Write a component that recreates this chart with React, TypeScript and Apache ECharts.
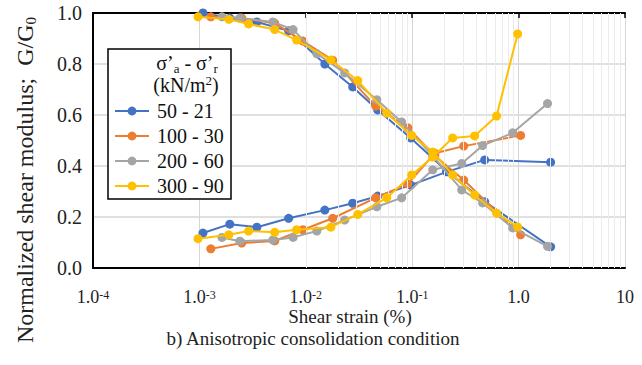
import React, { useEffect, useRef } from "react";
import * as echarts from "echarts";

const seriesNames = ["50 - 21", "100 - 30", "200 - 60", "300 - 90"];
const colors = ["#4472C4", "#ED7D31", "#A5A5A5", "#FFC000"];

const blueX = [0.00108, 0.00193, 0.00347, 0.0069, 0.0151, 0.0276, 0.0474, 0.0968, 0.211, 0.48, 2.0];
const blueDec = [1.0, 0.98, 0.965, 0.93, 0.8, 0.71, 0.62, 0.51, 0.38, 0.26, 0.083];
const blueInc = [0.137, 0.172, 0.16, 0.195, 0.227, 0.254, 0.282, 0.325, 0.377, 0.424, 0.415];

const orangeX = [0.00128, 0.0025, 0.0051, 0.0094, 0.0179, 0.0454, 0.0908, 0.163, 0.305, 1.045];
const orangeDec = [0.985, 0.98, 0.96, 0.89, 0.815, 0.635, 0.55, 0.44, 0.345, 0.13];
const orangeInc = [0.075, 0.098, 0.106, 0.15, 0.195, 0.275, 0.33, 0.45, 0.478, 0.52];

const grayX = [0.00163, 0.0024, 0.0049, 0.0076, 0.0127, 0.0232, 0.0465, 0.0796, 0.156, 0.292, 0.459, 0.88, 1.87];
const grayDec = [0.985, 0.98, 0.965, 0.935, 0.84, 0.765, 0.66, 0.573, 0.44, 0.306, 0.255, 0.157, 0.085];
const grayInc = [0.12, 0.105, 0.11, 0.12, 0.145, 0.188, 0.24, 0.275, 0.385, 0.41, 0.48, 0.53, 0.645];

const yellowX = [0.00097, 0.00189, 0.0029, 0.0051, 0.0082, 0.0172, 0.0308, 0.0577, 0.0989, 0.156, 0.24, 0.386, 0.621, 0.98];
const yellowDec = [0.985, 0.975, 0.957, 0.935, 0.894, 0.816, 0.735, 0.607, 0.52, 0.455, 0.365, 0.286, 0.215, 0.161];
const yellowInc = [0.115, 0.13, 0.145, 0.14, 0.15, 0.16, 0.21, 0.275, 0.365, 0.435, 0.51, 0.518, 0.596, 0.918];

const groups = [
  { x: blueX, dec: blueDec, inc: blueInc },
  { x: orangeX, dec: orangeDec, inc: orangeInc },
  { x: grayX, dec: grayDec, inc: grayInc },
  { x: yellowX, dec: yellowDec, inc: yellowInc },
];

const xMin = 0.0001;
const xMax = 10;
const yTicks = [0, 0.2, 0.4, 0.6, 0.8, 1.0];

const FONT = "'Liberation Serif', 'Times New Roman', serif";

export default function App() {
  const ref = useRef<HTMLDivElement>(null);
  useEffect(() => {
    if (!ref.current) return;
    const chart = echarts.init(ref.current, undefined, { renderer: "svg" });

    const minorLines: { xAxis: number }[] = [];
    for (let e = -4; e < 1; e++) {
      for (let m = 2; m <= 9; m++) {
        minorLines.push({ xAxis: m * Math.pow(10, e) });
      }
    }

    const dataSeries: any[] = [];
    groups.forEach((g, i) => {
      ["dec", "inc"].forEach((k) => {
        dataSeries.push({
          type: "line",
          name: seriesNames[i],
          data: g.x.map((x, j) => [x, (g as any)[k][j]]),
          symbol: "circle",
          symbolSize: 9,
          lineStyle: { color: colors[i], width: 2 },
          itemStyle: { color: colors[i] },
          z: 3 + i,
        });
      });
    });

    const option: any = {
      animation: false,
      textStyle: { fontFamily: FONT },
      grid: { left: 93, top: 13, right: 17, bottom: 97, containLabel: false },
      legend: {
        data: seriesNames,
        orient: "vertical",
        left: 114,
        top: 101,
        z: 30,
        itemWidth: 34,
        itemHeight: 11,
        itemGap: 5,
        padding: 0,
        textStyle: { fontSize: 20, color: "#111", fontFamily: FONT, lineHeight: 20, padding: [0, 0, 0, 3] },
      },
      xAxis: [
        {
          type: "log",
          logBase: 10,
          min: xMin,
          max: xMax,
          axisLine: { show: true, lineStyle: { color: "#000", width: 2 } },
          axisTick: { show: false },
          splitLine: { show: true, lineStyle: { color: "#d6d6d6", width: 1 } },
          axisLabel: {
            margin: 21,
            fontSize: 18,
            lineHeight: 15,
            color: "#222",
            fontFamily: FONT,
            formatter: (v: number) => {
              const e = Math.round(Math.log10(v));
              if (e === 0) return "1.0";
              if (e === 1) return "10";
              return "1.0{s|" + e + "}";
            },
            rich: {
              s: { fontSize: 12, fontFamily: FONT, color: "#222", lineHeight: 12, verticalAlign: "top" },
            },
          },
        },
        {
          type: "log",
          logBase: 10,
          min: xMin,
          max: xMax,
          position: "top",
          axisLine: { show: true, lineStyle: { color: "#000", width: 2 } },
          axisTick: { show: true, inside: true, length: 5, lineStyle: { color: "#000", width: 1.5 } },
          axisLabel: { show: false },
          splitLine: { show: false },
        },
      ],
      yAxis: {
        type: "value",
        min: 0,
        max: 1,
        interval: 0.2,
        axisLine: { show: true, lineStyle: { color: "#000", width: 2 } },
        axisTick: { show: false },
        splitLine: { show: true, lineStyle: { color: "#d6d6d6", width: 1.5 } },
        axisLabel: {
          margin: 11,
          fontSize: 20,
          color: "#222",
          fontFamily: FONT,
          formatter: (v: number) => (yTicks.some((t) => Math.abs(t - v) < 1e-9) ? v.toFixed(1) : ""),
        },
      },
      series: [
        {
          type: "line",
          name: "minor-grid",
          data: [],
          silent: true,
          z: 1,
          markLine: {
            silent: true,
            symbol: ["none", "none"],
            label: { show: false },
            lineStyle: { color: "#ebebeb", width: 1, type: "solid" },
            data: minorLines,
          },
        },
        ...dataSeries,
      ],
      graphic: [
        {
          type: "rect",
          shape: { x: 108, y: 49, width: 123, height: 150 },
          style: { fill: "#fff", stroke: "#000", lineWidth: 1.5 },
          z: 20,
        },
        {
          type: "text",
          x: 187,
          y: 63,
          z: 31,
          style: {
            text: "σ’{sub|a} - σ’{sub|r}",
            fontSize: 20,
            fontFamily: FONT,
            fill: "#111",
            align: "center",
            verticalAlign: "middle",
            rich: { sub: { fontSize: 13, fontFamily: FONT, fill: "#111", padding: [10, 0, 0, 0] } },
          },
        },
        {
          type: "text",
          x: 186,
          y: 85,
          z: 31,
          style: {
            text: "(kN/m{sup|2})",
            fontSize: 20,
            fontFamily: FONT,
            fill: "#111",
            align: "center",
            verticalAlign: "middle",
            rich: { sup: { fontSize: 13, fontFamily: FONT, fill: "#111", padding: [0, 0, 10, 0] } },
          },
        },
        {
          type: "text",
          x: 25,
          y: 180,
          rotation: Math.PI / 2,
          style: {
            text: "Normalized shear modulus;  G/G{sub|0}",
            fontSize: 24,
            fontFamily: FONT,
            fill: "#222",
            align: "center",
            verticalAlign: "middle",
            rich: { sub: { fontSize: 15, fontFamily: FONT, fill: "#222", padding: [11, 0, 0, 0] } },
          },
        },
        {
          type: "text",
          x: 350,
          y: 316,
          style: {
            text: "Shear strain (%)",
            fontSize: 19,
            fontFamily: FONT,
            fill: "#222",
            align: "center",
            verticalAlign: "middle",
          },
        },
        {
          type: "text",
          x: 313,
          y: 338,
          style: {
            text: "b) Anisotropic consolidation condition",
            fontSize: 19,
            fontFamily: FONT,
            fill: "#222",
            align: "center",
            verticalAlign: "middle",
          },
        },
      ],
    };
    chart.setOption(option);
    return () => chart.dispose();
  }, []);
  return (
    <div
      ref={ref}
      style={{ position: "absolute", left: 0, top: 0, width: 642, height: 365, background: "#fff" }}
    />
  );
}
